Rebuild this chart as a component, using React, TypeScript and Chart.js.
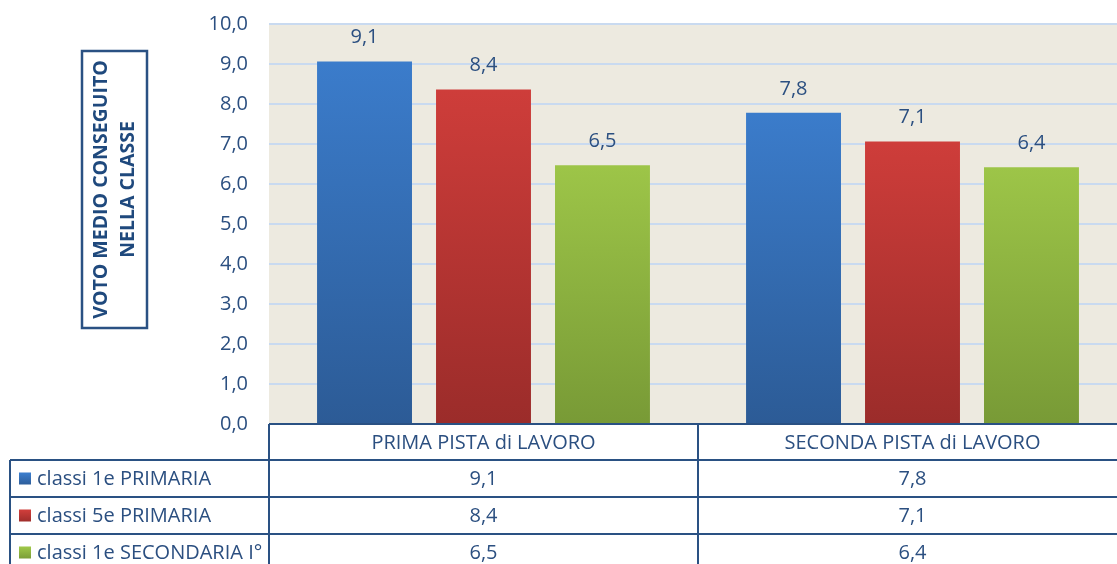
import React, { useEffect, useRef } from "react";
import { Chart, registerables } from "chart.js";

Chart.register(...registerables);

const categories = ["PRIMA PISTA di LAVORO", "SECONDA PISTA di LAVORO"];
const seriesNames = ["classi 1e PRIMARIA", "classi 5e PRIMARIA", "classi 1e SECONDARIA I°"];
const primaria1 = [9.06, 7.78];
const primaria5 = [8.36, 7.06];
const secondaria1 = [6.47, 6.42];
const yMin = 0;
const yMax = 10;
const yStep = 1;
const yTitleLines = ["VOTO MEDIO CONSEGUITO", "NELLA CLASSE"];

const seriesTop = ["#3B7CCB", "#CE3D3A", "#9DC548"];
const seriesBottom = ["#2C5B96", "#9B2C2A", "#789A36"];

const TEXT = "#2B4F80";
const LINE = "#2A5183";
const FONT = "'Open Sans', sans-serif";

const fmt = (v: number) => v.toFixed(1).replace(".", ",");

function gradientFor(i: number) {
  return (ctx: any) => {
    const chart = ctx.chart;
    const y = chart.scales && chart.scales.y;
    const c = chart.ctx;
    if (!y || ctx.parsed === undefined || !isFinite(y.top)) return seriesTop[i];
    const t = y.getPixelForValue(ctx.parsed.y);
    const b = y.getPixelForValue(0);
    if (!isFinite(t) || !isFinite(b) || t === b) return seriesTop[i];
    const g = c.createLinearGradient(0, t, 0, b);
    g.addColorStop(0, seriesTop[i]);
    g.addColorStop(1, seriesBottom[i]);
    return g;
  };
}

const tablePlugin = {
  id: "tablePlugin",
  beforeDraw(chart: any) {
    const { ctx, chartArea } = chart;
    ctx.save();
    ctx.fillStyle = "#EDEAE0";
    ctx.fillRect(chartArea.left, chartArea.top, chartArea.right - chartArea.left, chartArea.bottom - chartArea.top);
    ctx.restore();
  },
  afterDatasetsDraw(chart: any) {
    const { ctx } = chart;
    ctx.save();
    ctx.font = `20px ${FONT}`;
    ctx.fillStyle = TEXT;
    ctx.textAlign = "center";
    ctx.textBaseline = "middle";
    chart.data.datasets.forEach((ds: any, di: number) => {
      const meta = chart.getDatasetMeta(di);
      meta.data.forEach((el: any, i: number) => {
        ctx.fillText(fmt(ds.data[i]), el.x, el.y - 24);
      });
    });
    ctx.restore();
  },
  afterDraw(chart: any) {
    const { ctx, chartArea } = chart;
    const xs = chart.scales.x;
    const n = categories.length;
    const catW = (xs.right - xs.left) / n;
    const top = chartArea.bottom;
    const headerB = top + 36;
    const rowH = 37;
    const tableLeft = 10;
    const right = xs.right;
    const rows = chart.data.datasets.length;
    const bottom = headerB + rowH * rows;

    ctx.save();
    ctx.strokeStyle = LINE;
    ctx.lineWidth = 2;
    ctx.beginPath();
    ctx.moveTo(chartArea.left, top);
    ctx.lineTo(right, top);
    for (let k = 0; k <= rows; k++) {
      const y = headerB + rowH * k;
      ctx.moveTo(tableLeft, y);
      ctx.lineTo(right, y);
    }
    ctx.moveTo(tableLeft, headerB);
    ctx.lineTo(tableLeft, bottom);
    for (let i = 0; i <= n; i++) {
      const x = xs.left + catW * i;
      ctx.moveTo(x, top);
      ctx.lineTo(x, bottom);
    }
    ctx.stroke();

    ctx.font = `20px ${FONT}`;
    ctx.fillStyle = TEXT;
    ctx.textBaseline = "middle";
    ctx.textAlign = "center";
    categories.forEach((c, i) => {
      const cx = xs.getPixelForValue(i);
      ctx.fillText(c, cx, (top + headerB) / 2 + 1);
    });
    chart.data.datasets.forEach((ds: any, di: number) => {
      const cy = headerB + rowH * di + rowH / 2 + 1;
      ctx.textAlign = "center";
      ctx.fillStyle = TEXT;
      ds.data.forEach((v: number, i: number) => {
        ctx.fillText(fmt(v), xs.getPixelForValue(i), cy);
      });
      const g = ctx.createLinearGradient(0, cy - 6, 0, cy + 6);
      g.addColorStop(0, seriesTop[di]);
      g.addColorStop(1, seriesBottom[di]);
      ctx.fillStyle = g;
      ctx.fillRect(19, cy - 7, 12, 12);
      ctx.fillStyle = TEXT;
      ctx.textAlign = "left";
      ctx.fillText(ds.label, 37, cy);
    });

    // y-axis title in a box
    const bx = 82, by = 51, bw = 65, bh = 277;
    ctx.strokeStyle = LINE;
    ctx.lineWidth = 2.5;
    ctx.strokeRect(bx, by, bw, bh);
    ctx.translate(bx + bw / 2, by + bh / 2);
    ctx.rotate(-Math.PI / 2);
    ctx.font = `bold 19.5px ${FONT}`;
    ctx.fillStyle = "#1F497D";
    ctx.textAlign = "center";
    ctx.textBaseline = "middle";
    const lh = 27;
    yTitleLines.forEach((l, i) => {
      ctx.fillText(l, 0, (i - (yTitleLines.length - 1) / 2) * lh);
    });
    ctx.restore();
  },
};

export default function App() {
  const ref = useRef<HTMLCanvasElement>(null);
  useEffect(() => {
    if (!ref.current) return;
    const data = [primaria1, primaria5, secondaria1];
    const chart = new Chart(ref.current, {
      type: "bar",
      data: {
        labels: categories,
        datasets: data.map((d, i) => ({
          label: seriesNames[i],
          data: d,
          backgroundColor: gradientFor(i),
          borderWidth: 0,
          categoryPercentage: 0.832,
          barPercentage: 0.798,
        })),
      },
      options: {
        animation: false,
        responsive: true,
        maintainAspectRatio: false,
        layout: { padding: { top: 24, bottom: 140, left: 0, right: 0 } },
        plugins: { legend: { display: false }, tooltip: { enabled: false }, title: { display: false } },
        scales: {
          x: { display: false },
          y: {
            min: yMin,
            max: yMax,
            ticks: {
              stepSize: yStep,
              color: TEXT,
              font: { family: FONT, size: 20 },
              padding: 21,
              callback: (v: any) => fmt(Number(v)),
            },
            grid: { color: "#C9DAF0", lineWidth: 2, drawTicks: false },
            border: { display: false },
            afterFit: (s: any) => {
              s.width = 269;
              s.paddingTop = 0;
              s.paddingBottom = 0;
            },
          },
        },
      },
      plugins: [tablePlugin],
    });
    return () => chart.destroy();
  }, []);
  return (
    <div style={{ position: "fixed", left: 0, top: 0, width: 1127, height: 564 }}>
      <canvas ref={ref} />
    </div>
  );
}
